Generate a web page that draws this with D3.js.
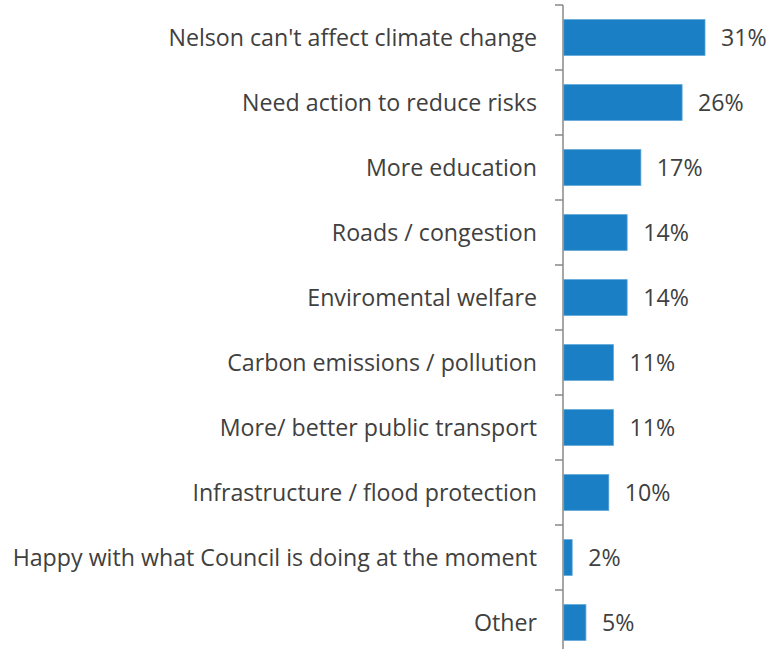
<!DOCTYPE html>
<html>
<head>
<meta charset="utf-8">
<script src="https://cdn.jsdelivr.net/npm/d3@7"></script>
<style>
  html, body { margin: 0; padding: 0; background: #fff; }
  svg { display: block; }
</style>
</head>
<body>
<svg id="chart" width="769" height="649"></svg>
<script>
const categories = [
  "Nelson can't affect climate change",
  "Need action to reduce risks",
  "More education",
  "Roads / congestion",
  "Enviromental welfare",
  "Carbon emissions / pollution",
  "More/ better public transport",
  "Infrastructure / flood protection",
  "Happy with what Council is doing at the moment",
  "Other"
];
const values = [31, 26, 17, 14, 14, 11, 11, 10, 2, 5];

const svg = d3.select("#chart");
const axisX = 563;
const fontFamily = "'Open Sans', 'Noto Sans', sans-serif";
const fontSize = 23.2;

const y = d3.scaleBand()
  .domain(categories)
  .range([5, 655])
  .paddingInner(0.45)
  .paddingOuter(0.225);

const x = d3.scaleLinear()
  .domain([0, 31])
  .range([axisX, 705]);

// Category axis with ticks between bands
const g = svg.append("g");
g.append("line")
  .attr("x1", axisX).attr("x2", axisX)
  .attr("y1", 5).attr("y2", 655)
  .attr("stroke", "#898989").attr("stroke-width", 1.5);

const boundaries = d3.range(categories.length + 1).map(i => 5 + i * y.step());
g.selectAll(".tick")
  .data(boundaries)
  .join("line")
  .attr("x1", axisX - 8).attr("x2", axisX)
  .attr("y1", d => d).attr("y2", d => d)
  .attr("stroke", "#898989").attr("stroke-width", 1.5);

// Bars
svg.selectAll(".bar")
  .data(categories)
  .join("rect")
  .attr("class", "bar")
  .attr("x", axisX + 0.75)
  .attr("y", d => y(d))
  .attr("width", (d, i) => x(values[i]) - axisX - 0.75)
  .attr("height", y.bandwidth())
  .attr("fill", "#1a7fc4")
  .attr("stroke", "#5aa3d8")
  .attr("stroke-width", 0.8);

// Category labels
svg.selectAll(".cat")
  .data(categories)
  .join("text")
  .attr("x", 537)
  .attr("y", d => y(d) + y.bandwidth() / 2)
  .attr("dy", "0.35em")
  .attr("text-anchor", "end")
  .attr("font-family", fontFamily)
  .attr("font-size", fontSize)
  .attr("fill", "#404040")
  .text(d => d);

// Value labels
svg.selectAll(".val")
  .data(categories)
  .join("text")
  .attr("x", (d, i) => x(values[i]) + 16)
  .attr("y", d => y(d) + y.bandwidth() / 2)
  .attr("dy", "0.35em")
  .attr("font-family", fontFamily)
  .attr("font-size", fontSize)
  .attr("fill", "#404040")
  .text((d, i) => values[i] + "%");
</script>
</body>
</html>
